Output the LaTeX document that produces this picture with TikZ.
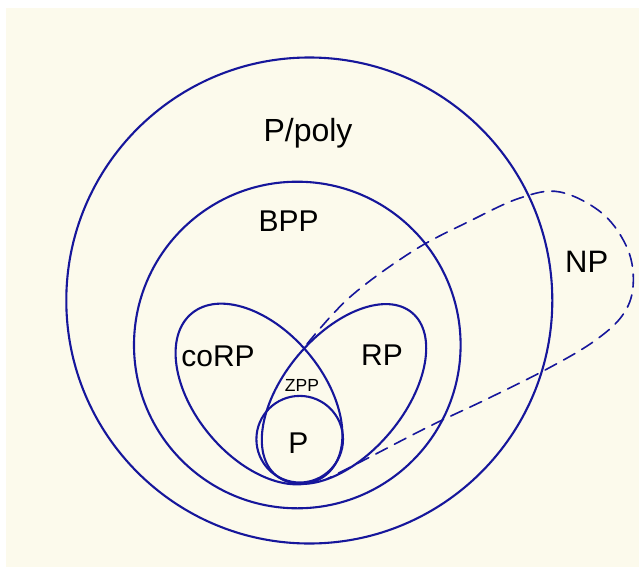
\documentclass[tikz,border=0pt]{standalone}
\usepackage{fontspec}
\setmainfont{Liberation Sans}
\definecolor{ink}{RGB}{22,22,155}
\definecolor{cream}{RGB}{252,250,236}
\begin{document}
\begin{tikzpicture}[x=1pt,y=-1pt,
  setline/.style={draw=ink,line width=2.1pt},
  npline/.style={draw=ink,line width=1.6pt,dash pattern=on 13pt off 8pt,line cap=round},
  biglabel/.style={anchor=base,inner sep=0pt,font=\fontsize{30}{36}\selectfont},
  smalllabel/.style={anchor=base,inner sep=0pt,font=\fontsize{17.5}{20}\selectfont}]
\useasboundingbox (0,0) rectangle (639,567);
\fill[white] (0,0) rectangle (639,567);
\fill[cream] (6,8) rectangle (639,567);
% P/poly
\draw[setline] (309.3,300.5) circle[radius=243pt];
% BPP
\draw[setline] (297.3,345) circle[radius=163.3pt];
% P
\draw[setline] (299.7,439.2) circle[radius=43.3pt];
% coRP
\draw[setline, rotate around={-50:(259,394)}] (259,394) ellipse[x radius=105pt, y radius=64pt];
% RP
\draw[setline, rotate around={50:(344,394)}] (344,394) ellipse[x radius=106pt, y radius=60pt];
% NP
\draw[npline] plot[smooth, tension=0.6] coordinates {(307,344) (350,297) (413,251) (470,221) (520,198) (560,192) (603,214) (628,250) (633,287) (622,316) (593,342) (547,369) (487,399) (430,426) (370,457) (327,479)};
% labels
\node[biglabel,font=\fontsize{32}{38}\selectfont] (ppoly) at (308,141) {P/poly};
\node[biglabel] (bpp) at (288.7,231.7) {BPP};
\node[biglabel] (corp) at (218,366.7) {coRP};
\node[biglabel] (rp) at (382,365) {RP};
\node[smalllabel] (zpp) at (302,391.7) {ZPP};
\node[biglabel] (p) at (298.3,453.3) {P};
\node[biglabel,font=\fontsize{31}{37}\selectfont] (np) at (586.7,272.7) {NP};
\end{tikzpicture}
\end{document}
